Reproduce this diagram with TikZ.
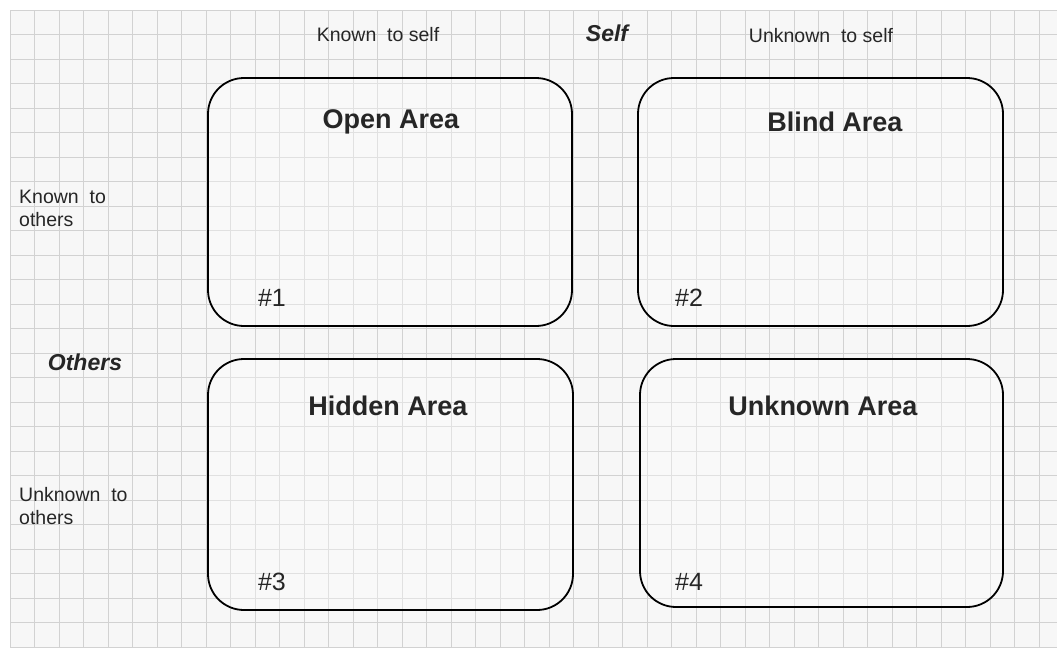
\documentclass[tikz,border=0pt]{standalone}
\usepackage{fontspec}
\setmainfont{Liberation Sans}
\definecolor{paper}{HTML}{F7F7F7}
\definecolor{gridline}{HTML}{D2D2D2}
\tikzset{
  area/.style={draw=black, line width=1.8pt, rounded corners=36pt, fill=white, fill opacity=0.35, text opacity=1},
  title/.style={font=\fontsize{27}{30}\selectfont\bfseries, inner sep=0pt, text=black!85},
  num/.style={font=\fontsize{25}{28}\selectfont, inner sep=0pt, text=black!85},
  small/.style={font=\fontsize{19.5}{23}\selectfont, inner sep=0pt, align=left, text=black!85},
  axis/.style={font=\fontsize{23}{26}\selectfont\bfseries\itshape, inner sep=1pt, text=black!85},
}
\begin{document}
\begin{tikzpicture}[x=1pt,y=-1pt]
\useasboundingbox (0,0) rectangle (1057,648);
\fill[white] (0,0) rectangle (1057,648);
\fill[paper] (10,10) rectangle (1057,648);
\foreach \i in {0,...,43} {
  \draw[gridline, line width=1pt] ({10+24.5*\i},10) -- ({10+24.5*\i},648);
}
\foreach \j in {0,...,26} {
  \draw[gridline, line width=1pt] (10,{10+24.5*\j}) -- (1057,{10+24.5*\j});
}
% boxes
\node[area, minimum width=364pt, minimum height=248pt] (b1) at (390,202) {};
\node[area, minimum width=365pt, minimum height=248pt] (b2) at (820.5,202) {};
\node[area, minimum width=365pt, minimum height=251pt] (b3) at (390.5,484.5) {};
\node[area, minimum width=363pt, minimum height=248pt] (b4) at (821.5,483) {};
% titles
\node[title] (t1) at (391,122) {Open Area};
\node[title] (t2) at (835,122) {Blind Area};
\node[title] (t3) at (388,406) {Hidden Area};
\node[title] (t4) at (823,406) {Unknown Area};
% numbers
\node[num] (n1) at (272,298) {\#1};
\node[num] (n2) at (689,298) {\#2};
\node[num] (n3) at (272,582) {\#3};
\node[num] (n4) at (689,582) {\#4};
% labels
\node[small] (ks) at (378,35) {Known\ \ to self};
\node[axis] (self) at (607,33) {Self};
\node[small] (us) at (821,36) {Unknown\ \ to self};
\node[small, anchor=north west] (ko) at (19,190) {Known\ \ to\\others};
\node[axis] (oth) at (85,362) {Others};
\node[small, anchor=north west] (uo) at (19,487) {Unknown\ \ to\\others};
\end{tikzpicture}
\end{document}
